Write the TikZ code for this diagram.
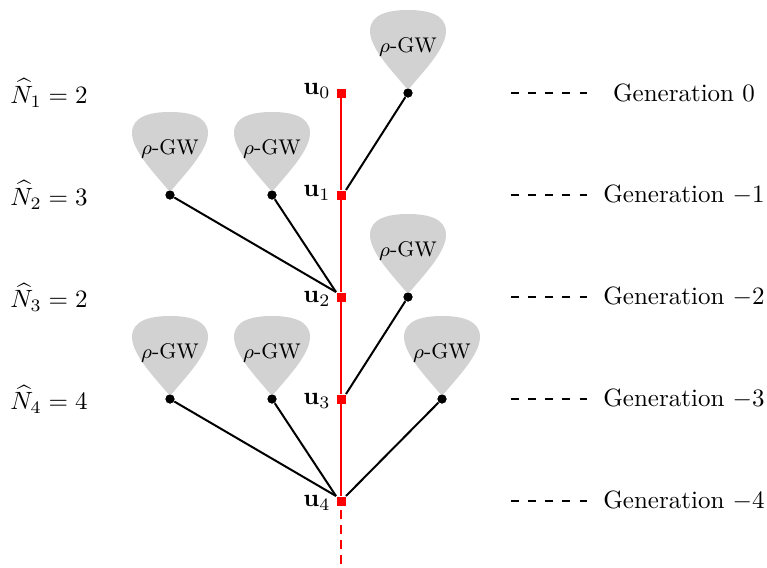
\documentclass[tikz,border=0pt]{standalone}
\usepackage{amsmath}
\definecolor{gwgray}{RGB}{210,210,210}
\begin{document}
\begin{tikzpicture}[x=0.4pt,y=-0.4pt,
  spine/.style={rectangle,fill=red,inner sep=0pt,minimum size=3.6pt},
  leaf/.style={circle,fill=black,inner sep=0pt,minimum size=3.6pt},
  edge/.style={line width=0.8pt},
  redge/.style={line width=0.8pt,red},
  gen/.style={dash pattern=on 3pt off 3.85pt,line width=0.45pt},
  gw/.style={fill=gwgray},
  gwtext/.style={font=\fontsize{8.5}{10}\selectfont,inner sep=0pt},
  lab/.style={inner sep=0pt}]
\useasboundingbox (0,0) rectangle (767,567);
% spine
\node[spine] (u0) at (341,93) {};
\node[spine] (u1) at (341,195) {};
\node[spine] (u2) at (341,297) {};
\node[spine] (u3) at (341,399) {};
\node[spine] (u4) at (341,501) {};
\coordinate (bot) at (341,567);
% leaves
\node[leaf] (c0) at (408,93) {};
\node[leaf] (c1) at (170,195) {};
\node[leaf] (c2) at (272,195) {};
\node[leaf] (c3) at (408,297) {};
\node[leaf] (c4) at (170,399) {};
\node[leaf] (c5) at (272,399) {};
\node[leaf] (c6) at (442,399) {};
% GW shapes
\foreach \c/\n in {c0/g0,c1/g1,c2/g2,c3/g3,c4/g4,c5/g5,c6/g6}{
  \begin{scope}[shift={(\c)}]
    \fill[gw] (0,-3) .. controls (-14,-20) and (-38,-44) .. (-38,-62)
      .. controls (-38,-79) and (-19,-83) .. (0,-83)
      .. controls (19,-83) and (38,-79) .. (38,-62)
      .. controls (38,-44) and (14,-20) .. (0,-3) -- cycle;
    \node[gwtext] (\n) at (0,-46) {$\rho$-GW};
  \end{scope}
}
% spine edges
\draw[redge] (u0) -- (u1);
\draw[redge] (u1) -- (u2);
\draw[redge] (u2) -- (u3);
\draw[redge] (u3) -- (u4);
\draw[redge,dash pattern=on 3.4pt off 2.6pt] (u4.south) ++(0,4) -- (bot);
% black edges
\draw[edge] (c0) -- (u1.north east);
\draw[edge] (c1) -- (u2.north west);
\draw[edge] (c2) -- (u2.north west);
\draw[edge] (c3) -- (u3.north east);
\draw[edge] (c4) -- (u4.north west);
\draw[edge] (c5) -- (u4.north west);
\draw[edge] (c6) -- (u4.north east);
% redraw spine nodes and leaves on top
\node[spine] at (u0) {};
\node[spine] at (u1) {};
\node[spine] at (u2) {};
\node[spine] at (u3) {};
\node[spine] at (u4) {};
\node[leaf] at (c0) {};\node[leaf] at (c1) {};\node[leaf] at (c2) {};
\node[leaf] at (c3) {};\node[leaf] at (c4) {};\node[leaf] at (c5) {};\node[leaf] at (c6) {};
% u labels
\node[lab,anchor=east] (l0) at (331,91) {$\mathbf{u}_0$};
\node[lab,anchor=east] (l1) at (331,193) {$\mathbf{u}_1$};
\node[lab,anchor=east] (l2) at (331,299) {$\mathbf{u}_2$};
\node[lab,anchor=east] (l3) at (331,401) {$\mathbf{u}_3$};
\node[lab,anchor=east] (l4) at (331,503) {$\mathbf{u}_4$};
% N hat labels
\node[lab,anchor=west] (n1) at (10,93) {$\widehat{N}_1 = 2$};
\node[lab,anchor=west] (n2) at (10,195) {$\widehat{N}_2 = 3$};
\node[lab,anchor=west] (n3) at (10,297) {$\widehat{N}_3 = 2$};
\node[lab,anchor=west] (n4) at (10,399) {$\widehat{N}_4 = 4$};
% generation labels
\foreach \y/\t/\n in {93/0/0,195/-1/1,297/-2/2,399/-3/3,501/-4/4}{
  \coordinate (da\n) at (511,\y);
  \coordinate (db\n) at (587,\y);
  \draw[gen] (da\n) -- (db\n);
  \node[lab] (gl\n) at (684,\y) {Generation $\t$};
}
\end{tikzpicture}
\end{document}
